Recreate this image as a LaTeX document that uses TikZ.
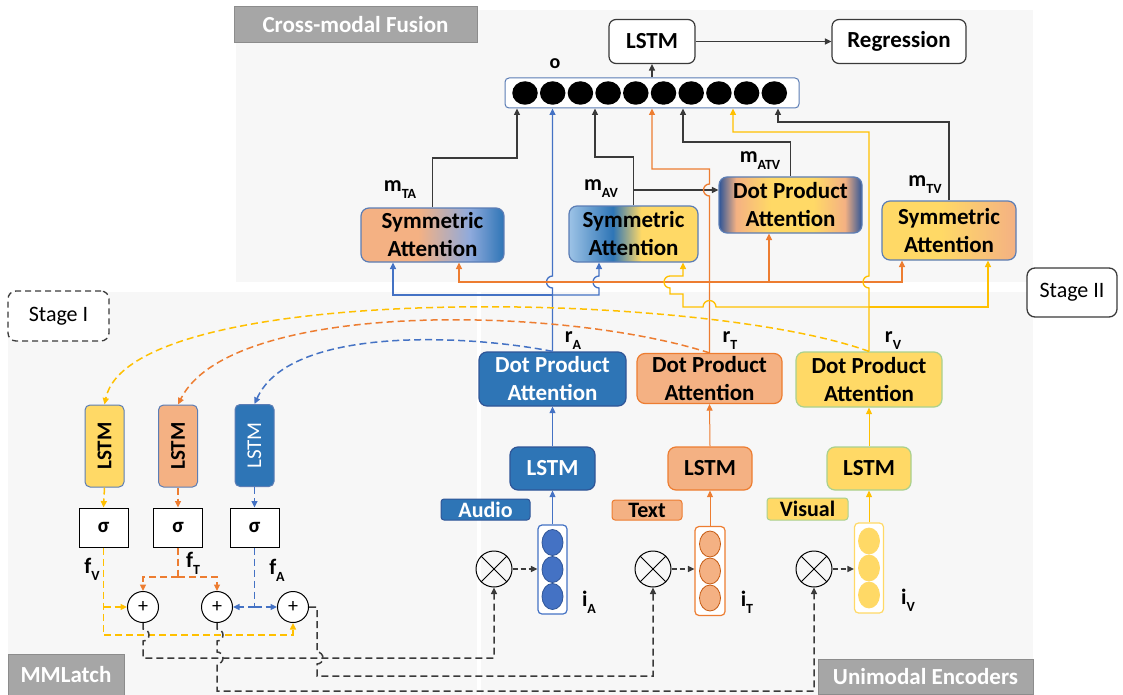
\documentclass[tikz,border=0pt]{standalone}
\usepackage{fontspec}
\setmainfont{Carlito}
\usepackage{graphicx}
\usetikzlibrary{arrows.meta,calc,shapes.geometric}

% palette
\definecolor{cBlue}{HTML}{4472C4}
\definecolor{cBlueD}{HTML}{2E75B6}
\definecolor{cBlueL}{HTML}{9DC3E6}
\definecolor{cBlueM}{HTML}{8FAADC}
\definecolor{cBlueB}{HTML}{2F5597}
\definecolor{cOrange}{HTML}{ED7D31}
\definecolor{cOrangeF}{HTML}{F4B183}
\definecolor{cOrangeB}{HTML}{C55A11}
\definecolor{cYellow}{HTML}{FFC000}
\definecolor{cYellowF}{HTML}{FFD966}
\definecolor{cGreen}{HTML}{A9D18E}
\definecolor{cSlate}{HTML}{5B7DB5}
\definecolor{cPanel}{HTML}{F7F7F7}
\definecolor{cTag}{HTML}{A6A6A6}
\definecolor{cTagB}{HTML}{8C8C8C}
\definecolor{cInk}{HTML}{3A3A3A}

% lowered subscript for the bold labels
\newcommand\sbx[1]{\raisebox{-0.32em}{\fontsize{14}{14}\selectfont #1}}

% two-modality blends for the fusion blocks
\pgfdeclarehorizontalshading{shTA}{100bp}{color(0bp)=(cOrangeF); color(25bp)=(cOrangeF); color(45bp)=(cOrangeF); color(63bp)=(cBlueM); color(75bp)=(cBlueD); color(100bp)=(cBlueD)}
\pgfdeclarehorizontalshading{shAV}{100bp}{color(0bp)=(cBlueL); color(25bp)=(cBlueL); color(42bp)=(cBlueD); color(53bp)=(cYellowF); color(75bp)=(cYellowF); color(100bp)=(cYellowF)}
\pgfdeclarehorizontalshading{shATV}{100bp}{color(0bp)=(cBlueB); color(25bp)=(cBlueB); color(31bp)=(cOrangeF); color(43bp)=(cYellowF); color(58bp)=(cYellowF); color(69bp)=(cOrangeF); color(75bp)=(cBlueB); color(100bp)=(cBlueB)}
\pgfdeclarehorizontalshading{shTV}{100bp}{color(0bp)=(cYellowF); color(25bp)=(cYellowF); color(47bp)=(cYellowF); color(75bp)=(cOrangeF); color(100bp)=(cOrangeF)}

\begin{document}
\begin{tikzpicture}[x=1pt,y=-1pt,
  >={Triangle[length=6.5pt,width=6pt]},
  every node/.style={inner sep=0pt},
  tag/.style={fill=cTag,draw=cTagB,line width=1pt,text=white,font=\bfseries\fontsize{23}{23}\selectfont},
  stagebox/.style={draw=cInk,fill=white,line width=1.3pt,rounded corners=8pt,font=\fontsize{22}{22}\selectfont},
  wbox/.style={draw=cInk,fill=white,line width=1.2pt,rounded corners=7pt,font=\bfseries\fontsize{23}{28}\selectfont},
  gbox/.style={shade,draw=cSlate,line width=1.2pt,rounded corners=8pt,align=center,font=\bfseries\fontsize{23}{28}\selectfont},
  dbox/.style={line width=1.2pt,rounded corners=8pt,align=center,font=\bfseries\fontsize{23}{28}\selectfont},
  mtag/.style={line width=1pt,rounded corners=3pt,font=\bfseries\fontsize{22}{22}\selectfont},
  vbox/.style={fill=white,line width=1.2pt,rounded corners=4pt},
  dot/.style={ellipse,minimum width=21pt,minimum height=26pt,line width=0.8pt},
  lstmv/.style={draw=cSlate,line width=1pt,rounded corners=5pt,minimum width=39pt,minimum height=82pt,font=\bfseries\fontsize{21}{21}\selectfont},
  sig/.style={draw=black,fill=white,line width=1pt,minimum width=49pt,minimum height=39pt,font=\bfseries\fontsize{21}{21}\selectfont},
  pls/.style={circle,draw=black,fill=white,line width=1pt,minimum size=31pt,font=\fontsize{20}{20}\selectfont},
  mul/.style={circle,draw=black,line width=1pt,minimum size=36pt},
  lbl/.style={font=\bfseries\fontsize{22}{22}\selectfont},
  ln/.style={draw=cInk,line width=1.3pt},
  lnB/.style={draw=cBlue,line width=1.3pt},
  lnO/.style={draw=cOrange,line width=1.3pt},
  lnY/.style={draw=cYellow,line width=1.3pt},
  dsh/.style={dash pattern=on 7pt off 4pt,line width=1.5pt},
  dB/.style={dsh,draw=cBlue},
  dO/.style={dsh,draw=cOrange},
  dY/.style={dsh,draw=cYellow},
  dK/.style={dsh,draw=cInk}]
\useasboundingbox (0,0) rectangle (1123,695);

% ---------- panels ----------
\fill[cPanel] (236,10) rectangle (1033,282);
\fill[cPanel] (8,292) rectangle (477,695);
\fill[cPanel] (481,292) rectangle (1033,695);

\node[tag,minimum width=243pt,minimum height=36pt] (tagCM) at (355.5,25) {Cross-modal Fusion};
\node[tag,minimum width=116pt,minimum height=41pt] (tagMM) at (66,674.5) {MMLatch};
\node[tag,minimum width=215pt,minimum height=35pt] (tagUE) at (925.5,676.5) {Unimodal Encoders};

\node[stagebox,dash pattern=on 6pt off 4pt,minimum width=101pt,minimum height=50pt] (stI) at (58.5,316) {Stage I};
\node[stagebox,minimum width=90pt,minimum height=49pt] (stII) at (1072,292.5) {Stage II};

% ---------- cross-modal fusion ----------
\node[wbox,minimum width=86pt,minimum height=44pt] (lstmTop) at (652,41.5) {LSTM};
\node[wbox,minimum width=134pt,minimum height=44pt] (regr) at (899,41.5) {Regression};
\node[draw=cSlate,fill=white,rounded corners=4pt,line width=1pt,minimum width=294pt,minimum height=30pt] (obox) at (652,93) {};
\foreach \k in {1,...,10}
  \node[ellipse,fill=black,minimum width=25.5pt,minimum height=23.5pt] (o\k) at ({525+27.7*(\k-1)},93) {};
\node[lbl,font=\bfseries\fontsize{20}{20}\selectfont] (oLbl) at (555,64) {o};

\node[gbox,shading=shTA,minimum width=143pt,minimum height=54pt] (symTA) at (432.5,235) {Symmetric\\Attention};
\node[gbox,shading=shAV,minimum width=129pt,minimum height=56pt] (symAV) at (633.5,234) {Symmetric\\Attention};
\node[gbox,shading=shATV,minimum width=143pt,minimum height=56pt] (dpATV) at (790.5,205) {Dot Product\\Attention};
\node[gbox,shading=shTV,minimum width=134pt,minimum height=59pt] (symTV) at (949,230.5) {Symmetric\\Attention};

\node[lbl] (mTA) at (400,190) {m\sbx{TA}};
\node[lbl] (mAV) at (601,189) {m\sbx{AV}};
\node[lbl] (mATV) at (760,161) {m\sbx{ATV}};
\node[lbl] (mTV) at (925,185) {m\sbx{TV}};

% ---------- unimodal encoders ----------
\node[dbox,fill=cBlueD,draw=cBlueB,text=white,minimum width=147pt,minimum height=54pt] (dpA) at (552.5,379) {Dot Product\\Attention};
\node[dbox,fill=cOrangeF,draw=cOrange,minimum width=145pt,minimum height=50pt] (dpT) at (709.5,378.5) {Dot Product\\Attention};
\node[dbox,fill=cYellowF,draw=cGreen,minimum width=146pt,minimum height=55pt] (dpV) at (869,379.5) {Dot Product\\Attention};

\node[lbl] (rA) at (573,341) {r\sbx{A}};
\node[lbl] (rT) at (730,341) {r\sbx{T}};
\node[lbl] (rV) at (893,341) {r\sbx{V}};

\node[dbox,fill=cBlueD,draw=cBlueB,text=white,minimum width=85pt,minimum height=43pt] (lstmA) at (552.5,468.5) {LSTM};
\node[dbox,fill=cOrangeF,draw=cOrange,minimum width=84pt,minimum height=43pt] (lstmT) at (710,468.5) {LSTM};
\node[dbox,fill=cYellowF,draw=cGreen,minimum width=84pt,minimum height=43pt] (lstmV) at (869,468.5) {LSTM};

\node[mtag,fill=cBlueD,draw=cBlueB,text=white,minimum width=89pt,minimum height=21pt] (tgA) at (485.5,509.5) {Audio};
\node[mtag,fill=cOrangeF,draw=cOrange,minimum width=70pt,minimum height=20pt] (tgT) at (647,510) {Text};
\node[mtag,fill=cYellowF,draw=cGreen,minimum width=81pt,minimum height=22pt] (tgV) at (807.5,509) {Visual};

\node[vbox,draw=cBlue,minimum width=29pt,minimum height=89pt] (vecA) at (552.5,569.5) {};
\node[vbox,draw=cOrange,minimum width=30pt,minimum height=89pt] (vecT) at (710,571) {};
\node[vbox,draw=cYellowF,minimum width=29pt,minimum height=90pt] (vecV) at (869,568) {};
\foreach \j in {1,2,3} {
  \node[dot,fill=cBlue,draw=cBlueB] (eA\j) at ($(vecA)+(0,{27*(\j-2)})$) {};
  \node[dot,fill=cOrangeF,draw=cOrangeB] (eT\j) at ($(vecT)+(0,{27*(\j-2)})$) {};
  \node[dot,fill=cYellowF,draw=cYellowF] (eV\j) at ($(vecV)+(0,{27*(\j-2)})$) {};
}
\node[lbl] (iA) at (589,602) {i\sbx{A}};
\node[lbl] (iT) at (747,602) {i\sbx{T}};
\node[lbl] (iV) at (908,600) {i\sbx{V}};

\foreach \n/\xx in {otA/494,otT/653,otV/814} {
  \node[mul] (\n) at (\xx,569) {};
  \draw[line width=1pt] (\n.north west) -- (\n.south east) (\n.north east) -- (\n.south west);
}

% ---------- MMLatch ----------
\node[lstmv,fill=cYellowF] (lstm1V) at (104.5,446) {\rotatebox{90}{LSTM}};
\node[lstmv,fill=cOrangeF] (lstm1T) at (178,446) {\rotatebox{90}{LSTM}};
\node[lstmv,fill=cBlueD,text=white,font=\fontsize{21}{21}\selectfont] (lstm1A) at (254.5,445.5) {\rotatebox{90}{LSTM}};

\node[sig] (sigV) at (103.5,527.5) {σ};
\node[sig] (sigT) at (178,527.5) {σ};
\node[sig] (sigA) at (254.5,527.5) {σ};

\node[pls] (plus1) at (143,607) {+};
\node[pls] (plus2) at (217,607) {+};
\node[pls] (plus3) at (293,607) {+};

\node[lbl] (fV) at (92,569) {f\sbx{V}};
\node[lbl] (fT) at (193,563) {f\sbx{T}};
\node[lbl] (fA) at (277,570) {f\sbx{A}};

% ---------- fusion connectors ----------
\draw[ln,->] (lstmTop) -- (regr);
\draw[ln,->] (obox.north) -- (lstmTop.south);

\coordinate (kTA) at (517,158);
\draw[ln,->] (symTA.north) |- (kTA) -- (kTA |- obox.south);
\coordinate (kAV) at (595,157);
\draw[ln,->] (symAV.north) |- (kAV) -- (kAV |- obox.south);
\coordinate (jAV) at (633.5,190);
\draw[ln,->] (jAV) -- (jAV -| dpATV.west);
\coordinate (kATV) at (683,142);
\draw[ln,->] (dpATV.north) |- (kATV) -- (kATV |- obox.south);
\coordinate (kTV) at (778,122);
\draw[ln,->] (symTV.north) |- (kTV) -- (kTV |- obox.south);

% r_A
\draw[lnB,->] (dpA.north) -- (552.5,288) arc[start angle=90,end angle=270,radius=6] -- (dpA.north |- obox.south);
\coordinate (jA) at (552.5,295);
\draw[lnB,->] (jA) -| ($(symTA.south)+(-39.5,0)$);
\draw[lnB,->] (jA) -- (599,295) -- (599,288) arc[start angle=90,end angle=270,radius=6] -- ($(symAV.south)+(-34.5,0)$);

% r_T
\draw[lnO,->] (dpT.north) -- (709.5,196) arc[start angle=90,end angle=270,radius=6] -- (709.5,169) -| (obox.south);
\coordinate (jT) at (709.5,282);
\draw[lnO,->] (jT) -| ($(symTA.south)+(26.5,0)$);
\draw[lnO,->] (jT) -| ($(symTV.south)+(-47,0)$);
\draw[lnO,<-] ($(dpATV.south)+(-21.5,0)$) |- (jT);

% r_V
\draw[lnY,->] (dpV.north) -- (869,288) arc[start angle=90,end angle=270,radius=6] -- (869,132) -| ($(obox.south)+(81,0)$);
\coordinate (jV) at (869,307);
\draw[lnY,->] (jV) -| ($(symTV.south)+(39,0)$);
\draw[lnY,->] (jV) -- (716,307) arc[start angle=0,end angle=-180,radius=6.5] -- (683,307) -- (683,294) -- (670,294) -- (670,288) arc[start angle=90,end angle=270,radius=6] -- (683,276) -- ($(symAV.south)+(49.5,0)$);

% ---------- feedback to MMLatch ----------
\draw[dY,->] (dpV.north) .. controls (700,290) and (130,280) .. (lstm1V.north);
\draw[dO,->] (dpT.north) .. controls (560,305) and (230,300) .. (lstm1T.north);
\draw[dB,->] (dpA.north) .. controls (470,335) and (290,325) .. (lstm1A.north);

% ---------- unimodal connectors ----------
\draw[lnB,line width=1pt,->] (lstmA.north) -- (dpA.south);
\draw[lnO,line width=1pt,->] (lstmT.north) -- (dpT.south);
\draw[lnY,line width=1pt,->] (lstmV.north) -- (dpV.south);
\draw[lnB,line width=1pt,->] (vecA.north) -- (lstmA.south);
\draw[lnO,line width=1pt,->] (vecT.north) -- (lstmT.south);
\draw[lnY,line width=1pt,->] (vecV.north) -- (lstmV.south);
\draw[dK,dash pattern=on 5pt off 3pt,->] (otA.east) -- (otA.east -| vecA.west);
\draw[dK,dash pattern=on 5pt off 3pt,->] (otT.east) -- (otT.east -| vecT.west);
\draw[dK,dash pattern=on 5pt off 3pt,->] (otV.east) -- (otV.east -| vecV.west);

% ---------- MMLatch connectors ----------
\draw[dY,->] (lstm1V.south) -- (sigV.north);
\draw[dO,->] (lstm1T.south) -- (sigT.north);
\draw[dB,->] (lstm1A.south) -- (sigA.north);

\coordinate (yB) at (103.5,635);
\draw[dY,->] (sigV.south) -- (yB) -| (plus3.south);
\draw[dY,->] (sigV.south |- plus1) -- (plus1.west);

\coordinate (oT) at (178,577);
\draw[dO] (sigT.south) -- (oT);
\draw[dO,->] (oT) -| (plus1.north);
\draw[dO,->] (oT) -| (plus2.north);

\draw[dB] (sigA.south) -- (sigA.south |- plus2);
\draw[dB,->] (sigA.south |- plus2) -- (plus2.east);
\draw[dB,->] (sigA.south |- plus3) -- (plus3.west);

\draw[dK,->] (plus1.south) -- (143,629) arc[start angle=-90,end angle=90,radius=6] -- (143,658) -| (otA.south);
\draw[dK,->] (plus2.south) -- (217,629) arc[start angle=-90,end angle=90,radius=6] -- (217,652) arc[start angle=-90,end angle=90,radius=6] -- (217,691) -| (otV.south);
\draw[dK,->] (plus3.east) -- (317,607) -- (317,652) arc[start angle=-90,end angle=90,radius=6] -- (317,676) -| (otT.south);
\end{tikzpicture}
\end{document}
